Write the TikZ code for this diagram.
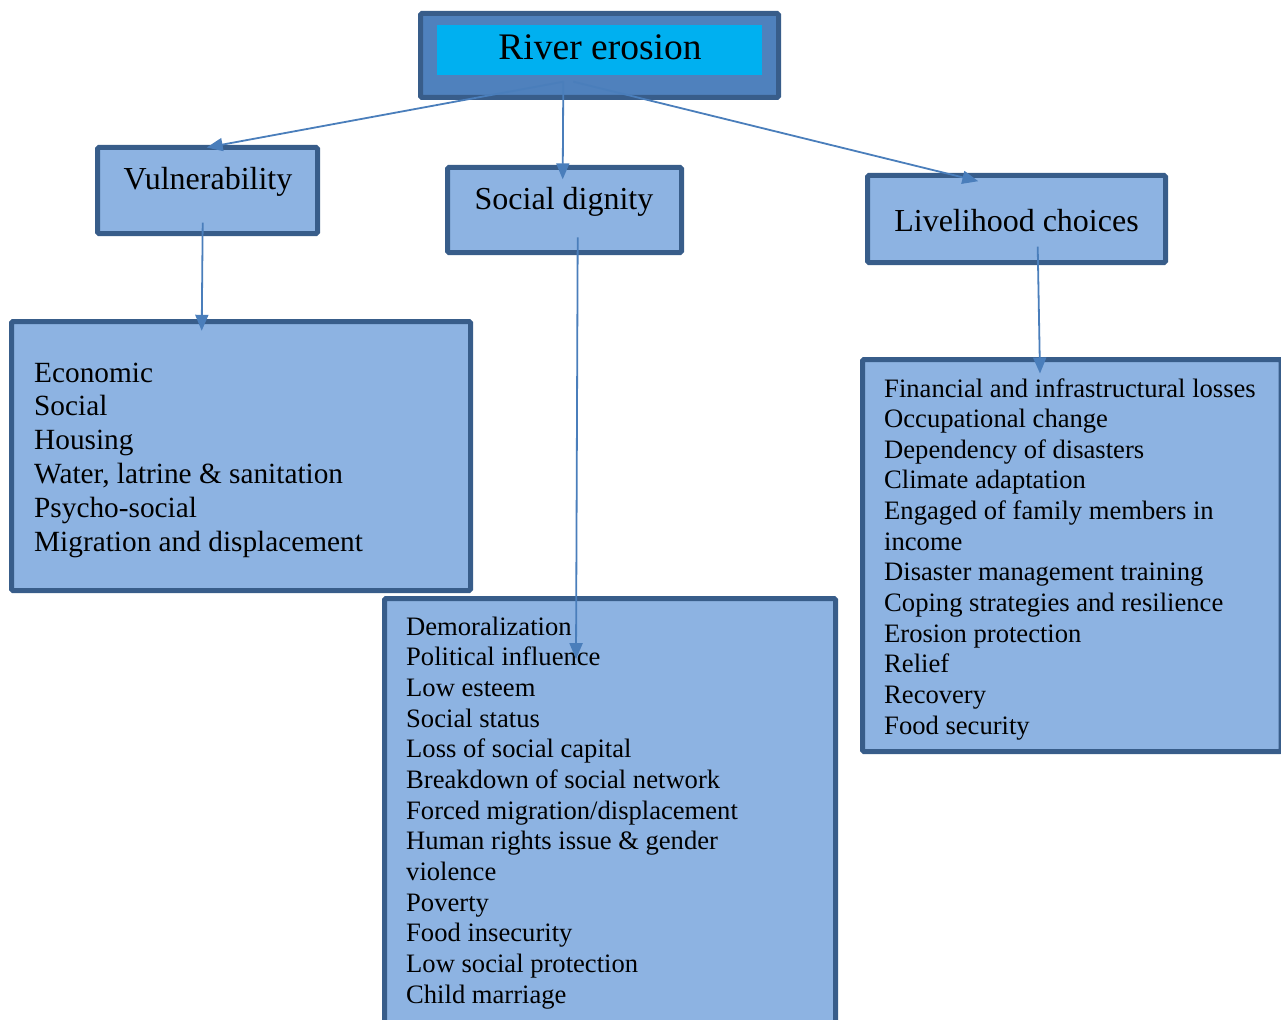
\documentclass[tikz,border=0pt]{standalone}
\usepackage{fontspec}
\setmainfont{Liberation Serif}
\usetikzlibrary{arrows.meta,calc}

\definecolor{boxedge}{HTML}{385D8A}
\definecolor{boxfill}{HTML}{8DB3E2}
\definecolor{topfill}{HTML}{4F81BD}
\definecolor{titlefill}{HTML}{00B0F0}
\definecolor{linkcol}{HTML}{4A7EBB}

\tikzset{
  panel/.style={draw=boxedge, line width=5pt, fill=boxfill, rounded corners=1.5pt,
    inner sep=0pt, minimum width=#1},
  titlepanel/.style={draw=boxedge, line width=5pt, fill=topfill, rounded corners=1.5pt,
    inner sep=0pt},
  headtext/.style={inner sep=0pt, anchor=base, font=\fontsize{32}{37}\selectfont},
  itemtext/.style={inner sep=0pt, anchor=base west},
  link/.style={draw=linkcol, line width=1.8pt,
    -{Triangle[length=16pt,width=13pt]}},
}

\begin{document}
\begin{tikzpicture}[x=1pt,y=-1pt]
\useasboundingbox (0,0) rectangle (1281,1019);

% top title box
\node[titlepanel, minimum width=358, minimum height=84] (top) at (599.5,55.5) {};
\node[fill=titlefill, inner sep=0pt, minimum width=325, minimum height=50] (topinner) at (599.5,50) {};
\node[headtext, font=\fontsize{37.5}{43}\selectfont] (title) at (600,60) {River erosion};

% category boxes
\node[panel=220, minimum height=86] (vul) at (207.5,190.5) {};
\node[headtext] (vultext) at (208,189.3) {Vulnerability};
\node[panel=234, minimum height=85] (soc) at (564.5,210) {};
\node[headtext] (soctext) at (564,209) {Social dignity};
\node[panel=298, minimum height=87] (liv) at (1016.5,219) {};
\node[headtext] (livtext) at (1016.5,231) {Livelihood choices};

% list boxes
\node[panel=459, minimum height=269] (vullist) at (241,456) {};
\node[panel=451, minimum height=436] (soclist) at (610,816.5) {};
\node[panel=418.5, minimum height=392] (livlist) at (1071.75,555.5) {};

% list entries
\begin{scope}[font=\fontsize{29.3}{34}\selectfont]
\foreach \t [count=\i] in {Economic, Social, Housing, {Water, latrine \& sanitation},
    Psycho-social, Migration and displacement}
  \node[itemtext] (v\i) at (34,{382+33.8*(\i-1)}) {\t};
\end{scope}

\begin{scope}[font=\fontsize{26.6}{31}\selectfont]
\foreach \t [count=\i] in {Demoralization, Political influence, Low esteem, Social status,
    Loss of social capital, Breakdown of social network, Forced migration/displacement,
    Human rights issue \& gender, violence, Poverty, Food insecurity,
    Low social protection, Child marriage}
  \node[itemtext] (s\i) at (406,{635+30.67*(\i-1)}) {\t};

\foreach \t [count=\i] in {Financial and infrastructural losses, Occupational change,
    Dependency of disasters, Climate adaptation, Engaged of family members in, income,
    Disaster management training, Coping strategies and resilience, Erosion protection,
    Relief, Recovery, Food security}
  \node[itemtext] (l\i) at (884,{397+30.64*(\i-1)}) {\t};
\end{scope}

% connector ends
\coordinate (topoutL) at ($(top.center)+(-36.2,26.2)$);
\coordinate (topoutR) at ($(top.center)+(-26.2,26.2)$);
\coordinate (vulin) at ($(vul.north)+(-0.8,2.5)$);
\coordinate (socin) at ($(soc.north)+(-1.8,14.3)$);
\coordinate (livin) at ($(liv.north)+(-38.2,8.2)$);
\coordinate (vulout) at ($(vul.center)+(-4.8,32.2)$);
\coordinate (vullistin) at ($(vullist.north)+(-39.3,11.8)$);
\coordinate (socout) at ($(soc.center)+(13.2,27.3)$);
\coordinate (soclistin) at ($(soclist.north)+(-34,63.2)$);
\coordinate (livout) at ($(liv.center)+(21.2,27.7)$);
\coordinate (livlistin) at ($(livlist.north)+(-31.75,16.5)$);

% connectors
\draw[link] (topoutL) -- (vulin);
\draw[link] (topoutL) -- (socin);
\draw[link] (topoutR) -- (livin);
\draw[link] (vulout) -- (vullistin);
\draw[link] (socout) -- (soclistin);
\draw[link] (livout) -- (livlistin);
\end{tikzpicture}
\end{document}
